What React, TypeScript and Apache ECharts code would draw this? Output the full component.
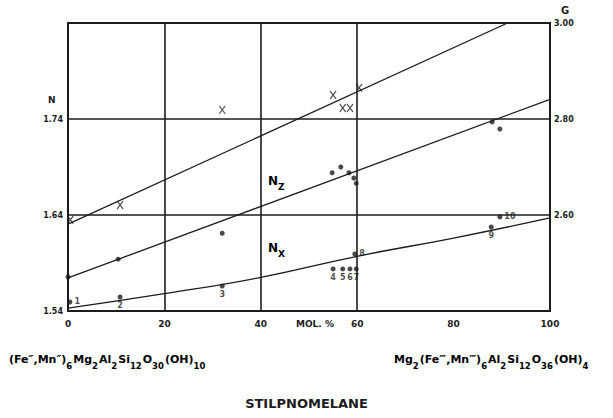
import React, { useEffect, useRef } from "react";
import * as echarts from "echarts";

// Mol. % axis
const xTicks = [0, 20, 40, 60, 80, 100];
const gridVerticals = [20, 40, 60];
const gridHorizontals = [1.64, 1.74];

// Specific gravity G (right axis), marked with X
const gMol = [0.5, 10.8, 32, 55, 57, 58.5, 60.4];
const gValues = [2.59, 2.621, 2.819, 2.85, 2.823, 2.823, 2.865];
const gLineMol = [0, 91.2];
const gLineValues = [2.581, 3.0];

// N_Z (left axis)
const nzMol = [0, 10.4, 32, 54.8, 56.6, 58.3, 59.3, 59.8, 88, 89.6];
const nzValues = [1.5754, 1.594, 1.621, 1.684, 1.69, 1.684, 1.6785, 1.673, 1.737, 1.7296];
const nzLineMol = [0, 100];
const nzLineValues = [1.5745, 1.7605];

// N_X (left axis), numbered samples
const nxMol = [0.4, 10.8, 32, 55, 57, 58.5, 59.8, 59.5, 87.8, 89.6];
const nxValues = [1.5494, 1.5546, 1.566, 1.5838, 1.5838, 1.5838, 1.5838, 1.5994, 1.6275, 1.638];
const nxLabels = ["1", "2", "3", "4", "5", "6", "7", "8", "9", "10"];
const nxLabelPos = ["right", "bottom", "bottom", "bottom", "bottom", "bottom", "bottom", "right", "bottom", "right"];
const nxLineMol = [0, 20, 40, 60, 80, 100];
const nxLineValues = [1.543, 1.558, 1.575, 1.597, 1.616, 1.637];

const INK = "#1c1c1c";
const FONT = "DejaVu Sans";

export default function App() {
  const ref = useRef<HTMLDivElement>(null);

  useEffect(() => {
    if (!ref.current) return;
    const chart = echarts.init(ref.current, null, { renderer: "svg" });
    const zip = (a: number[], b: number[]) => a.map((v, i) => [v, b[i]]);
    const labelStyle = { color: INK, fontFamily: FONT, fontWeight: "bold" as const, fontSize: 8 };
    const rich = {
      n: { fontFamily: FONT, fontWeight: "bold", fontSize: 11, color: INK, lineHeight: 12, verticalAlign: "top" },
      s: { fontFamily: FONT, fontWeight: "bold", fontSize: 8.5, color: INK, lineHeight: 9, padding: [7, 1, 0, 0], verticalAlign: "top" },
      N: { fontFamily: FONT, fontWeight: "bold", fontSize: 12, color: INK, lineHeight: 12, verticalAlign: "top" },
      S: { fontFamily: FONT, fontWeight: "bold", fontSize: 9, color: INK, lineHeight: 9, padding: [7, 0, 0, 0], verticalAlign: "top" },
    };
    chart.setOption({
      animation: false,
      backgroundColor: "#ffffff",
      grid: { left: 68, right: 63, top: 23, bottom: 107, show: true, borderColor: INK, borderWidth: 2, backgroundColor: "transparent" },
      xAxis: {
        type: "value",
        min: 0,
        max: 100,
        interval: 20,
        axisLine: { show: false },
        axisTick: { show: false },
        splitLine: { show: false },
        axisLabel: { ...labelStyle, fontSize: 9, margin: 8, formatter: (v: number) => (xTicks.includes(v) ? String(v) : "") },
      },
      yAxis: [
        {
          type: "value",
          min: 1.54,
          max: 1.84,
          interval: 0.1,
          position: "left",
          axisLine: { show: false },
          axisTick: { show: false },
          splitLine: { show: false },
          axisLabel: { ...labelStyle, margin: 5, formatter: (v: number) => (v > 1.83 ? "" : v.toFixed(2)) },
        },
        {
          type: "value",
          min: 2.4,
          max: 3.0,
          interval: 0.2,
          position: "right",
          axisLine: { show: false },
          axisTick: { show: false },
          splitLine: { show: false },
          axisLabel: { ...labelStyle, margin: 4, formatter: (v: number) => (v < 2.41 ? "" : v.toFixed(2)) },
        },
      ],
      series: [
        {
          type: "line",
          yAxisIndex: 0,
          data: zip(nzLineMol, nzLineValues),
          symbol: "none",
          lineStyle: { color: INK, width: 1.3 },
          markLine: {
            silent: true,
            symbol: ["none", "none"],
            label: { show: false },
            lineStyle: { color: INK, width: 1.6, type: "solid" },
            data: [
              ...gridVerticals.map((v) => ({ xAxis: v })),
              ...gridHorizontals.map((v) => ({ yAxis: v })),
            ],
          },
        },
        {
          type: "line",
          yAxisIndex: 0,
          data: zip(nxLineMol, nxLineValues),
          symbol: "none",
          smooth: true,
          lineStyle: { color: INK, width: 1.3 },
        },
        {
          type: "line",
          yAxisIndex: 1,
          data: zip(gLineMol, gLineValues),
          symbol: "none",
          lineStyle: { color: INK, width: 1.3 },
        },
        {
          type: "scatter",
          yAxisIndex: 1,
          data: zip(gMol, gValues),
          symbol: "path://M0,0L10,12M10,0L0,12",
          symbolSize: [6, 8],
          itemStyle: { color: "none", borderColor: INK, borderWidth: 1.2 },
        },
        {
          type: "scatter",
          yAxisIndex: 0,
          data: zip(nzMol, nzValues),
          symbol: "circle",
          symbolSize: 5,
          itemStyle: { color: INK },
        },
        {
          type: "scatter",
          yAxisIndex: 0,
          data: nxMol.map((m, i) => ({
            value: [m, nxValues[i]],
            label: { show: true, formatter: nxLabels[i], position: nxLabelPos[i], distance: 2, ...labelStyle, fontSize: 8 },
          })),
          symbol: "circle",
          symbolSize: 5,
          itemStyle: { color: INK },
        },
      ],
      graphic: [
        { type: "text", left: 48, top: 95, style: { text: "N", font: `bold 9px "${FONT}"`, fill: INK } },
        { type: "text", left: 561, top: 5, style: { text: "G", font: `bold 10px "${FONT}"`, fill: INK } },
        { type: "text", left: 296, top: 319, style: { text: "MOL. %", font: `bold 9px "${FONT}"`, fill: INK } },
        { type: "text", left: 268, top: 175, style: { text: "{N|N}{S|Z}", rich } },
        { type: "text", left: 268, top: 242, style: { text: "{N|N}{S|X}", rich } },
        {
          type: "text",
          left: 9,
          top: 354,
          style: { text: "{n|(Fe″,Mn″)}{s|6}{n|Mg}{s|2}{n|Al}{s|2}{n|Si}{s|12}{n|O}{s|30}{n|(OH)}{s|10}", rich },
        },
        {
          type: "text",
          left: 394,
          top: 354,
          style: { text: "{n|Mg}{s|2}{n|(Fe‴,Mn‴)}{s|6}{n|Al}{s|2}{n|Si}{s|12}{n|O}{s|36}{n|(OH)}{s|4}", rich },
        },
        {
          type: "text",
          left: "center",
          top: 397,
          style: { text: "STILPNOMELANE", font: `bold 13px "${FONT}"`, fill: INK },
        },
      ],
    });
    return () => chart.dispose();
  }, []);

  return <div ref={ref} style={{ position: "absolute", left: 0, top: 0, width: 613, height: 418 }} />;
}
